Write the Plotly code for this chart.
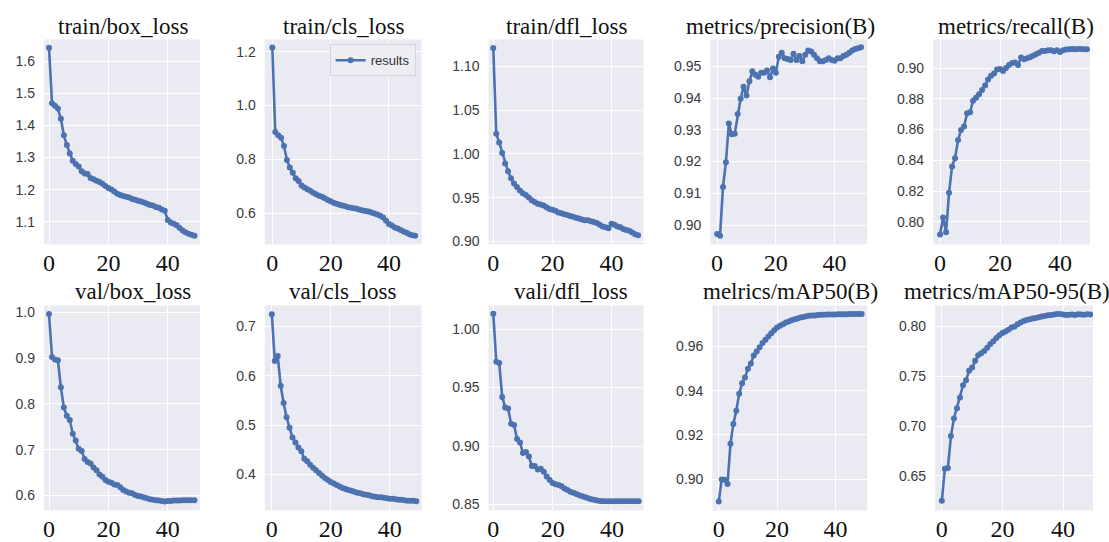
import plotly.graph_objects as go

W, H = 1109, 542
epochs = list(range(50))

titles = ["train/box_loss", "train/cls_loss", "train/dfl_loss", "metrics/precision(B)", "metrics/recall(B)",
          "val/box_loss", "val/cls_loss", "vali/dfl_loss", "melrics/mAP50(B)", "metrics/mAP50-95(B)"]

train_box = [1.643, 1.470, 1.462, 1.453, 1.421, 1.370, 1.339, 1.313, 1.290, 1.280,
             1.272, 1.257, 1.250, 1.249, 1.236, 1.232, 1.228, 1.224, 1.218, 1.211,
             1.205, 1.200, 1.194, 1.187, 1.183, 1.180, 1.178, 1.175, 1.171, 1.168,
             1.165, 1.163, 1.160, 1.156, 1.152, 1.150, 1.146, 1.143, 1.138, 1.134,
             1.105, 1.097, 1.093, 1.089, 1.080, 1.072, 1.067, 1.062, 1.059, 1.056]
train_cls = [1.216, 0.902, 0.890, 0.880, 0.850, 0.798, 0.770, 0.750, 0.730, 0.720,
             0.703, 0.695, 0.689, 0.683, 0.676, 0.670, 0.665, 0.661, 0.655, 0.649,
             0.644, 0.639, 0.635, 0.631, 0.628, 0.626, 0.622, 0.620, 0.618, 0.616,
             0.613, 0.610, 0.608, 0.606, 0.602, 0.599, 0.595, 0.590, 0.584, 0.572,
             0.560, 0.554, 0.547, 0.543, 0.537, 0.532, 0.527, 0.522, 0.518, 0.516]
train_dfl = [1.121, 1.023, 1.013, 1.001, 0.989, 0.980, 0.972, 0.966, 0.962, 0.958,
             0.955, 0.953, 0.950, 0.947, 0.945, 0.943, 0.942, 0.941, 0.939, 0.937,
             0.936, 0.935, 0.933, 0.932, 0.931, 0.930, 0.929, 0.928, 0.927, 0.926,
             0.925, 0.924, 0.924, 0.923, 0.922, 0.921, 0.919, 0.917, 0.916, 0.915,
             0.920, 0.919, 0.917, 0.916, 0.914, 0.913, 0.912, 0.910, 0.908, 0.907]
precision = [0.8972, 0.8966, 0.9120, 0.9198, 0.9320, 0.9286, 0.9288, 0.9350, 0.9398, 0.9436,
             0.9408, 0.9453, 0.9485, 0.9474, 0.9467, 0.9480, 0.9480, 0.9487, 0.9466, 0.9493,
             0.9480, 0.9530, 0.9543, 0.9526, 0.9523, 0.9520, 0.9540, 0.9520, 0.9533, 0.9516,
             0.9537, 0.9550, 0.9547, 0.9537, 0.9526, 0.9516, 0.9516, 0.9520, 0.9526, 0.9520,
             0.9518, 0.9526, 0.9526, 0.9533, 0.9537, 0.9543, 0.9550, 0.9555, 0.9557, 0.9560]
recall = [0.7917, 0.8028, 0.7932, 0.8189, 0.8360, 0.8413, 0.8531, 0.8596, 0.8620, 0.8705,
          0.8712, 0.8787, 0.8806, 0.8830, 0.8857, 0.8887, 0.8925, 0.8950, 0.8964, 0.8990,
          0.8994, 0.8980, 0.9000, 0.9020, 0.9032, 0.9036, 0.9020, 0.9068, 0.9057, 0.9064,
          0.9070, 0.9079, 0.9090, 0.9100, 0.9111, 0.9111, 0.9115, 0.9115, 0.9109, 0.9115,
          0.9104, 0.9115, 0.9120, 0.9122, 0.9124, 0.9122, 0.9124, 0.9124, 0.9122, 0.9122]
val_box = [0.996, 0.902, 0.897, 0.895, 0.836, 0.792, 0.774, 0.765, 0.735, 0.720,
           0.702, 0.697, 0.680, 0.673, 0.670, 0.661, 0.655, 0.646, 0.641, 0.634,
           0.630, 0.628, 0.624, 0.623, 0.618, 0.612, 0.609, 0.606, 0.605, 0.601,
           0.599, 0.598, 0.596, 0.594, 0.592, 0.591, 0.590, 0.589, 0.588, 0.587,
           0.588, 0.588, 0.589, 0.589, 0.589, 0.590, 0.590, 0.590, 0.590, 0.590]
val_cls = [0.725, 0.630, 0.640, 0.580, 0.545, 0.516, 0.495, 0.475, 0.465, 0.455,
           0.447, 0.432, 0.427, 0.420, 0.414, 0.409, 0.403, 0.398, 0.393, 0.389,
           0.385, 0.382, 0.379, 0.376, 0.373, 0.371, 0.369, 0.367, 0.365, 0.363,
           0.362, 0.360, 0.359, 0.358, 0.356, 0.355, 0.354, 0.354, 0.353, 0.352,
           0.351, 0.351, 0.350, 0.349, 0.349, 0.348, 0.347, 0.347, 0.347, 0.346]
val_dfl = [1.013, 0.972, 0.971, 0.942, 0.933, 0.932, 0.919, 0.918, 0.906, 0.903,
           0.894, 0.895, 0.891, 0.883, 0.883, 0.880, 0.8805, 0.878, 0.874, 0.871,
           0.8685, 0.8674, 0.8666, 0.8657, 0.8638, 0.8624, 0.861, 0.8601, 0.859, 0.858,
           0.857, 0.8562, 0.8553, 0.8545, 0.854, 0.8534, 0.853, 0.8528, 0.8528, 0.8528,
           0.8528, 0.8528, 0.8528, 0.8528, 0.8528, 0.8528, 0.8528, 0.8528, 0.8528, 0.8528]
map50 = [0.8899, 0.8999, 0.8998, 0.8978, 0.9160, 0.9250, 0.9310, 0.9386, 0.9434, 0.9460,
         0.9500, 0.9523, 0.9560, 0.9578, 0.9597, 0.9616, 0.9631, 0.9646, 0.9660, 0.9674,
         0.9686, 0.9694, 0.9701, 0.9709, 0.9713, 0.9719, 0.9724, 0.9727, 0.9731, 0.9734,
         0.9737, 0.9739, 0.9740, 0.9741, 0.9743, 0.9744, 0.9744, 0.9745, 0.9745, 0.9745,
         0.9745, 0.9746, 0.9746, 0.9746, 0.9746, 0.9747, 0.9747, 0.9747, 0.9747, 0.9747]
map50_95 = [0.625, 0.6573, 0.658, 0.690, 0.7077, 0.718, 0.7286, 0.741, 0.746, 0.7556,
            0.7589, 0.7655, 0.771, 0.773, 0.7753, 0.7786, 0.7825, 0.7852, 0.7885, 0.7911,
            0.7934, 0.795, 0.7967, 0.799, 0.800, 0.8023, 0.804, 0.8056, 0.8066, 0.8073,
            0.808, 0.8086, 0.8092, 0.810, 0.8105, 0.8112, 0.8115, 0.812, 0.8125, 0.8125,
            0.812, 0.8115, 0.8118, 0.812, 0.8115, 0.8122, 0.812, 0.8118, 0.8122, 0.812]

series = [train_box, train_cls, train_dfl, precision, recall,
          val_box, val_cls, val_dfl, map50, map50_95]

y_ranges = [[1.029, 1.669], [0.484, 1.246], [0.8966, 1.1307], [0.8939, 0.9585], [0.7853, 0.9186],
            [0.5677, 1.0147], [0.3275, 0.7426], [0.845, 1.0202], [0.8859, 0.9786], [0.6154, 0.8211]]
y_ticks = [[1.1, 1.2, 1.3, 1.4, 1.5, 1.6], [0.6, 0.8, 1.0, 1.2], [0.90, 0.95, 1.00, 1.05, 1.10],
           [0.90, 0.91, 0.92, 0.93, 0.94, 0.95], [0.80, 0.82, 0.84, 0.86, 0.88, 0.90],
           [0.6, 0.7, 0.8, 0.9, 1.0], [0.4, 0.5, 0.6, 0.7], [0.85, 0.90, 0.95, 1.00],
           [0.90, 0.92, 0.94, 0.96], [0.65, 0.70, 0.75, 0.80]]
y_fmt = [".1f", ".1f", ".2f", ".2f", ".2f", ".1f", ".1f", ".2f", ".2f", ".2f"]
x_ticks = [0, 20, 40]

# plot-area pixel boxes (left, right, top, bottom) and x range
boxes = [(43, 199, 39, 247), (264, 421, 39, 247), (488, 643, 39, 247), (710, 867, 39, 247), (933, 1090, 39, 247),
         (43, 199, 309, 517), (264, 421, 309, 517), (488, 643, 309, 517), (712, 867, 309, 517), (935, 1093, 309, 517)]
x_ranges = [[-1.7, 50.8], [-2.6, 51.2], [-1.6, 50.8], [-2.3, 51.1], [-2.3, 50.0],
            [-1.7, 50.8], [-2.4, 50.8], [-1.6, 50.6], [-2.2, 50.9], [-2.2, 49.9]]
title_pos = [(122, 26), (343, 26), (566, 26), (780, 26), (1016, 26),
             (132, 295), (342, 295), (571, 295), (790, 295), (1007, 295)]

BLUE = "#4C72B0"
fig = go.Figure()
layout = {}
annotations = []
for i in range(10):
    sfx = "" if i == 0 else str(i + 1)
    l, r, t, b = boxes[i]
    fig.add_trace(go.Scatter(
        x=epochs, y=series[i], mode="lines+markers", name="results",
        line=dict(color=BLUE, width=2.6), marker=dict(color=BLUE, size=6),
        xaxis="x" + sfx, yaxis="y" + sfx, showlegend=(i == 1)))
    layout["xaxis" + sfx] = dict(
        domain=[l / W, r / W], anchor="y" + sfx, range=x_ranges[i],
        tickvals=x_ticks, showgrid=True, gridcolor="white", gridwidth=1,
        zeroline=False, showline=False, ticks="",
        tickfont=dict(family="Liberation Serif", size=24, color="#111111"),
        ticklabelstandoff=2)
    layout["yaxis" + sfx] = dict(
        domain=[1 - b / H, 1 - t / H], anchor="x" + sfx, range=y_ranges[i],
        tickvals=y_ticks[i], tickformat=y_fmt[i], showgrid=True, gridcolor="white",
        gridwidth=1, zeroline=False, showline=False, ticks="",
        tickfont=dict(family="Liberation Sans", size=14, color="#3a3a3a"),
        ticklabelstandoff=8)
    tx, ty = title_pos[i]
    annotations.append(dict(
        text=titles[i], x=tx / W, y=1 - ty / H, xref="paper", yref="paper",
        xanchor="center", yanchor="middle", showarrow=False,
        font=dict(family="Liberation Serif", size=23, color="#111111")))

fig.update_layout(
    width=W, height=H, margin=dict(l=0, r=0, t=0, b=0),
    paper_bgcolor="white", plot_bgcolor="#EAEAF2",
    annotations=annotations,
    legend=dict(x=415 / W, y=1 - 44 / H, xanchor="right", yanchor="top",
                bgcolor="#EDEDF3", bordercolor="#D4D4DC", borderwidth=1,
                font=dict(family="Liberation Sans", size=13, color="#333333"),
                itemwidth=30, tracegroupgap=0),
    **layout)

fig.write_html("out.html")
